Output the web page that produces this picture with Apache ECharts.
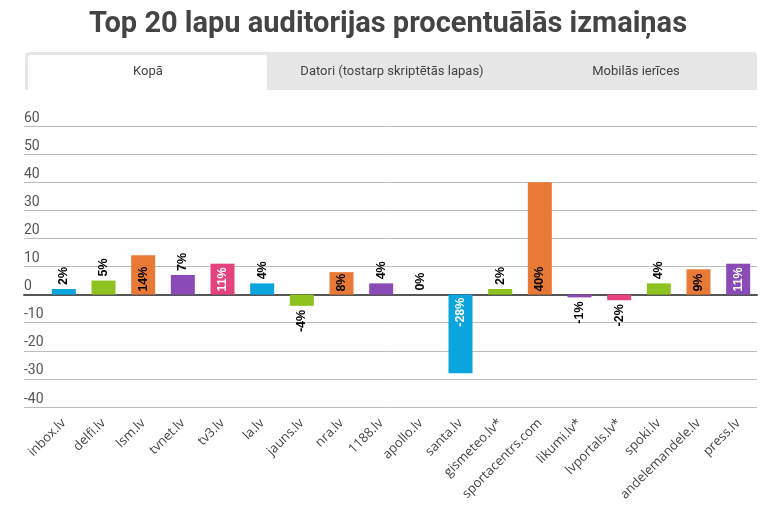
<!DOCTYPE html>
<html>
<head>
<meta charset="utf-8">
<script src="https://cdn.jsdelivr.net/npm/echarts@6/dist/echarts.min.js"></script>
<style>
    html, body { margin: 0; padding: 0; background: #fff; }
    #chart { width: 776px; height: 514px; }
</style>
</head>
<body>
<div id="chart"></div>
<script>
    // dati
    var categories = ['inbox.lv', 'delfi.lv', 'lsm.lv', 'tvnet.lv', 'tv3.lv', 'la.lv', 'jauns.lv', 'nra.lv', '1188.lv',
        'apollo.lv', 'santa.lv', 'gismeteo.lv*', 'sportacentrs.com', 'likumi.lv*', 'lvportals.lv*', 'spoki.lv',
        'andelemandele.lv', 'press.lv'];
    var values = [2, 5, 14, 7, 11, 4, -4, 8, 4, 0, -28, 2, 40, -1, -2, 4, 9, 11];
    var tabs = ['Kopā', 'Datori (tostarp skriptētās lapas)', 'Mobilās ierīces'];

    var cyan = '#0ba5de', green = '#8dc21f', orange = '#e87a35', purple = '#8b4bb6', pink = '#e5437f';
    var barColors = [cyan, green, orange, purple, pink, cyan, green, orange, purple, pink,
        cyan, green, orange, purple, pink, green, orange, purple];

    var chart = echarts.init(document.getElementById('chart'));

    var seriesData = values.map(function (v, i) {
        var inside = Math.abs(v) >= 8;
        var color = barColors[i];
        var label;
        if (v >= 0) {
            label = {
                position: inside ? 'insideBottom' : 'top',
                align: 'left',
                distance: inside ? 3 : 4,
                color: inside && color != orange ? '#fff' : '#000'
            };
        } else {
            label = {
                position: inside ? 'insideTop' : 'bottom',
                align: 'right',
                distance: inside ? 3 : 4,
                color: inside && color != orange ? '#fff' : '#000'
            };
        }
        return {value: v, itemStyle: {color: color}, label: label};
    });

    var tabW = 244, tabX = 25;
    var graphics = [
        {type: 'rect', shape: {x: 25, y: 52, width: 732, height: 38, r: [4, 4, 0, 0]}, style: {fill: '#e6e6e6'}, silent: true},
        {type: 'rect', shape: {x: 28, y: 55, width: 239, height: 35, r: [3, 3, 0, 0]}, style: {fill: '#fff'}, silent: true}
    ];
    tabs.forEach(function (t, i) {
        graphics.push({
            type: 'text',
            x: tabX + 3 + tabW * i + 120,
            y: 72,
            style: {
                text: t, fill: '#444', font: '13px Roboto',
                textAlign: 'center', textVerticalAlign: 'middle'
            },
            silent: true
        });
    });

    var option = {
        animation: false,
        title: {
            text: 'Top 20 lapu auditorijas procentuālās izmaiņas',
            left: 'center',
            top: 5,
            textStyle: {fontFamily: 'Roboto', fontSize: 29, fontWeight: 'bold', color: '#444'}
        },
        graphic: graphics,
        grid: [
            {left: 24, right: 19, top: 126, height: 281},
            {left: 44, right: 18, top: 126, height: 281}
        ],
        xAxis: [
            {
                gridIndex: 0,
                type: 'category',
                data: categories,
                offset: 7,
                axisLine: {lineStyle: {color: '#555', width: 2}},
                axisTick: {show: false},
                axisLabel: {show: false}
            },
            {
                gridIndex: 1,
                type: 'category',
                data: categories,
                axisLine: {show: false},
                axisTick: {show: false},
                axisLabel: {
                    rotate: 45,
                    margin: 14,
                    interval: 0,
                    color: '#444',
                    fontFamily: 'Open Sans',
                    fontSize: 13
                }
            }
        ],
        yAxis: [
            {
                gridIndex: 0,
                type: 'value',
                min: -40,
                max: 60,
                interval: 10,
                axisLine: {show: false},
                axisTick: {show: false},
                splitLine: {lineStyle: {color: '#bdbdbd', width: 1}},
                axisLabel: {
                    inside: true,
                    margin: 0,
                    align: 'left',
                    verticalAlign: 'bottom',
                    padding: [0, 0, 1, 0],
                    color: '#555',
                    fontFamily: 'Roboto',
                    fontSize: 14
                }
            },
            {
                gridIndex: 1,
                type: 'value',
                min: -40,
                max: 60,
                interval: 10,
                show: false
            }
        ],
        series: [
            {
                type: 'bar',
                xAxisIndex: 1,
                yAxisIndex: 1,
                barWidth: 24,
                data: seriesData,
                label: {
                    show: true,
                    rotate: 90,
                    verticalAlign: 'middle',
                    fontFamily: 'Arial',
                    fontWeight: 'bold',
                    fontSize: 12.5,
                    formatter: '{c}%'
                }
            }
        ]
    };

    chart.setOption(option);
    window.addEventListener('resize', function () {
        chart.resize();
    });
</script>
</body>
</html>
